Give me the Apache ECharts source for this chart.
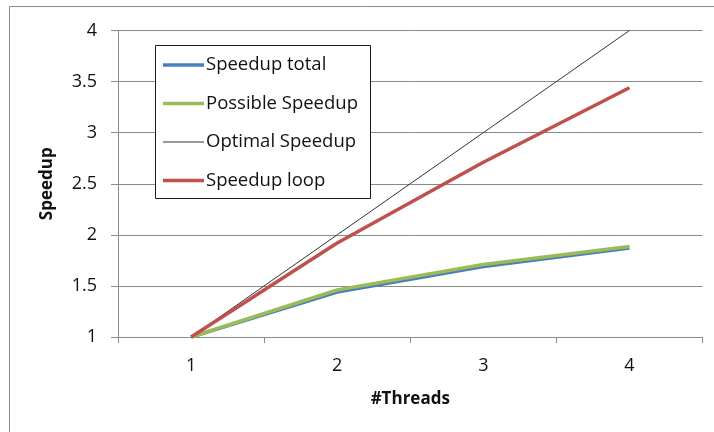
<!DOCTYPE html>
<html>
<head>
<meta charset="utf-8">
<script src="https://cdn.jsdelivr.net/npm/echarts@6/dist/echarts.min.js"></script>
<style>
html,body{margin:0;padding:0;background:#fff;}
#c{width:714px;height:432px;}
</style>
</head>
<body>
<div id="c"></div>
<script>
var threads = ['1', '2', '3', '4'];
var speedupTotal = [1, 1.44, 1.69, 1.87];
var possibleSpeedup = [1, 1.46, 1.71, 1.885];
var optimalSpeedup = [1, 2, 3, 4];
var speedupLoop = [1, 1.92, 2.71, 3.44];
var yTicks = [1, 1.5, 2, 2.5, 3, 3.5, 4];

var FONT = 'Open Sans';
var THICK = 'path://M0,0h41v3.6h-41z';
var THIN = 'path://M0,0h41v1.2h-41z';
var chart = echarts.init(document.getElementById('c'), null, {renderer: 'canvas'});
chart.setOption({
  animation: false,
  backgroundColor: '#ffffff',
  textStyle: {fontFamily: FONT},
  graphic: [
    {type: 'rect', shape: {x: 9.5, y: 6.5, width: 730, height: 450},
     style: {fill: 'none', stroke: '#8a8a8a', lineWidth: 1}, z: -1},
    {type: 'rect', shape: {x: 155.5, y: 45.5, width: 215, height: 153},
     style: {fill: '#ffffff', stroke: '#1a1a1a', lineWidth: 1}, z: 5}
  ],
  grid: {left: 118, right: 11.5, top: 30.5, bottom: 95, containLabel: false},
  legend: {
    orient: 'vertical',
    left: 155, top: 45,
    padding: [10.5, 8, 10, 8],
    itemWidth: 41, itemHeight: 14, itemGap: 19.5,
    symbolKeepAspect: true,
    z: 6,
    textStyle: {fontFamily: FONT, fontSize: 18.5, color: '#111111', padding: [0, 0, 0, -3]},
    data: [
      {name: 'Speedup total', icon: THICK},
      {name: 'Possible Speedup', icon: THICK},
      {name: 'Optimal Speedup', icon: THIN},
      {name: 'Speedup loop', icon: THICK}
    ]
  },
  xAxis: {
    type: 'category',
    data: threads,
    boundaryGap: true,
    name: '#Threads',
    nameLocation: 'middle',
    nameGap: 54,
    nameTextStyle: {fontFamily: FONT, fontSize: 17, fontWeight: 'bold', color: '#111111'},
    axisLine: {lineStyle: {color: '#8a8a8a', width: 1}},
    axisTick: {show: true, length: 6, lineStyle: {color: '#8a8a8a'}},
    axisLabel: {fontFamily: FONT, fontSize: 18, color: '#111111', margin: 20}
  },
  yAxis: {
    type: 'value',
    min: yTicks[0], max: yTicks[yTicks.length - 1], interval: 0.5,
    name: 'Speedup',
    nameLocation: 'middle',
    nameGap: 62,
    nameRotate: 90,
    nameTextStyle: {fontFamily: FONT, fontSize: 17, fontWeight: 'bold', color: '#111111'},
    axisLine: {show: true, lineStyle: {color: '#8a8a8a', width: 1}},
    axisTick: {show: true, length: 7, lineStyle: {color: '#8a8a8a'}},
    axisLabel: {fontFamily: FONT, fontSize: 18, color: '#111111', margin: 21},
    splitLine: {show: true, lineStyle: {color: '#8a8a8a', width: 1}}
  },
  series: [
    {name: 'Speedup total', type: 'line', data: speedupTotal, symbol: 'none',
     lineStyle: {color: '#4a7ebb', width: 3.5}, itemStyle: {color: '#4a7ebb'}, z: 2},
    {name: 'Possible Speedup', type: 'line', data: possibleSpeedup, symbol: 'none',
     lineStyle: {color: '#9bbb59', width: 3.5}, itemStyle: {color: '#9bbb59'}, z: 3},
    {name: 'Optimal Speedup', type: 'line', data: optimalSpeedup, symbol: 'none',
     lineStyle: {color: '#333333', width: 1}, itemStyle: {color: '#333333'}, z: 4},
    {name: 'Speedup loop', type: 'line', data: speedupLoop, symbol: 'none',
     lineStyle: {color: '#c0504d', width: 3.5}, itemStyle: {color: '#c0504d'}, z: 5}
  ]
});
</script>
</body>
</html>
